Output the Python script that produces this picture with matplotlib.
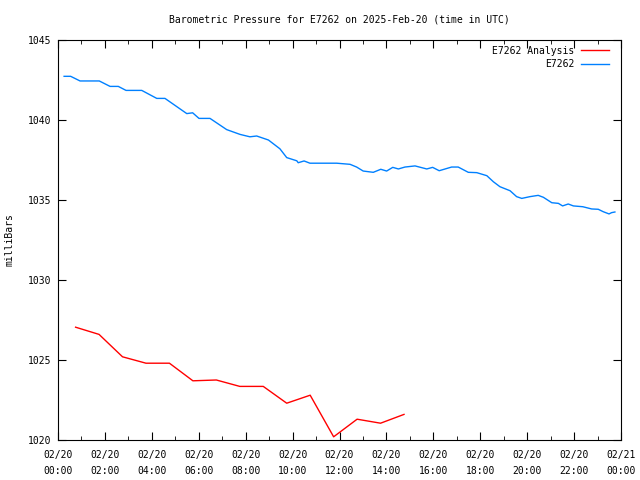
import matplotlib.pyplot as plt
from matplotlib.ticker import MultipleLocator

plt.rcParams['font.family'] = ['DejaVu Sans Mono']
plt.rcParams['font.size'] = 7

# Analysis (hourly, hours since 02/20 00:00 UTC)
ana_hours = [0.75, 1.75, 2.75, 3.75, 4.75, 5.75, 6.75, 7.75, 8.75, 9.75,
             10.75, 11.75, 12.75, 13.75, 14.75]
ana_mb = [1027.05, 1026.6, 1025.2, 1024.8, 1024.8, 1023.7, 1023.75, 1023.35,
          1023.35, 1022.3, 1022.8, 1020.2, 1021.3, 1021.05, 1021.6]

# Observations
obs_hours = [0.26, 0.54, 0.94, 1.76, 2.22, 2.57, 2.90, 3.57, 4.21, 4.56, 5.49,
             5.74, 6.01, 6.48, 7.19, 7.76, 8.18, 8.47, 8.97, 9.46, 9.75, 10.18,
             10.24, 10.49, 10.74, 11.88, 12.45, 12.73, 13.01, 13.44, 13.76,
             14.01, 14.27, 14.51, 14.79, 15.22, 15.72, 15.97, 16.25, 16.78,
             17.06, 17.49, 17.85, 18.28, 18.56, 18.84, 19.27, 19.55, 19.77,
             20.12, 20.47, 20.69, 21.05, 21.33, 21.51, 21.75, 21.97, 22.37,
             22.75, 23.03, 23.24, 23.49, 23.60, 23.74]
obs_mb = [1042.73, 1042.73, 1042.44, 1042.44, 1042.1, 1042.1, 1041.85, 1041.85,
          1041.35, 1041.35, 1040.4, 1040.45, 1040.1, 1040.1, 1039.4, 1039.1,
          1038.95, 1039.0, 1038.75, 1038.2, 1037.65, 1037.45, 1037.33, 1037.44,
          1037.3, 1037.3, 1037.23, 1037.06, 1036.81, 1036.73, 1036.92, 1036.81,
          1037.04, 1036.94, 1037.06, 1037.13, 1036.94, 1037.04, 1036.83,
          1037.06, 1037.06, 1036.73, 1036.71, 1036.52, 1036.14, 1035.83,
          1035.58, 1035.21, 1035.1, 1035.21, 1035.29, 1035.17, 1034.83,
          1034.79, 1034.63, 1034.75, 1034.63, 1034.58, 1034.44, 1034.42,
          1034.27, 1034.13, 1034.21, 1034.25]

tick_hours = [0, 2, 4, 6, 8, 10, 12, 14, 16, 18, 20, 22, 24]
tick_labels = ['02/20\n00:00', '02/20\n02:00', '02/20\n04:00', '02/20\n06:00',
               '02/20\n08:00', '02/20\n10:00', '02/20\n12:00', '02/20\n14:00',
               '02/20\n16:00', '02/20\n18:00', '02/20\n20:00', '02/20\n22:00',
               '02/21\n00:00']

fig = plt.figure(figsize=(6.4, 4.8), dpi=100)
ax = fig.add_axes([58/640, 40/480, 563/640, 400/480])

ax.plot(ana_hours, ana_mb, color='#ff0000', lw=1, label='E7262 Analysis')
ax.plot(obs_hours, obs_mb, color='#0080ff', lw=1, label='E7262')

ax.set_xlim(0, 24)
ax.set_ylim(1020, 1045)
ax.set_xticks(tick_hours)
ax.set_xticklabels(tick_labels, linespacing=1.75)
ax.xaxis.set_minor_locator(MultipleLocator(1))
ax.yaxis.set_major_locator(MultipleLocator(5))
ax.tick_params(which='both', direction='in', top=True, right=True, color='black')
ax.tick_params(which='major', length=6)
ax.tick_params(which='minor', length=3)
ax.tick_params(axis='x', which='major', pad=7)
ax.tick_params(axis='y', which='major', pad=4.5)

ax.set_title('Barometric Pressure for E7262 on 2025-Feb-20 (time in UTC)', fontsize=7, pad=12.5)
ax.set_ylabel('milliBars')
ax.yaxis.set_label_coords(-0.077, 0.5)

ax.legend(loc='upper right', bbox_to_anchor=(1, 1.015), frameon=False,
          markerfirst=False, handlelength=2.9, borderaxespad=0.8,
          labelspacing=0.35, handletextpad=0.7)

fig.savefig('out.png', dpi=100)
